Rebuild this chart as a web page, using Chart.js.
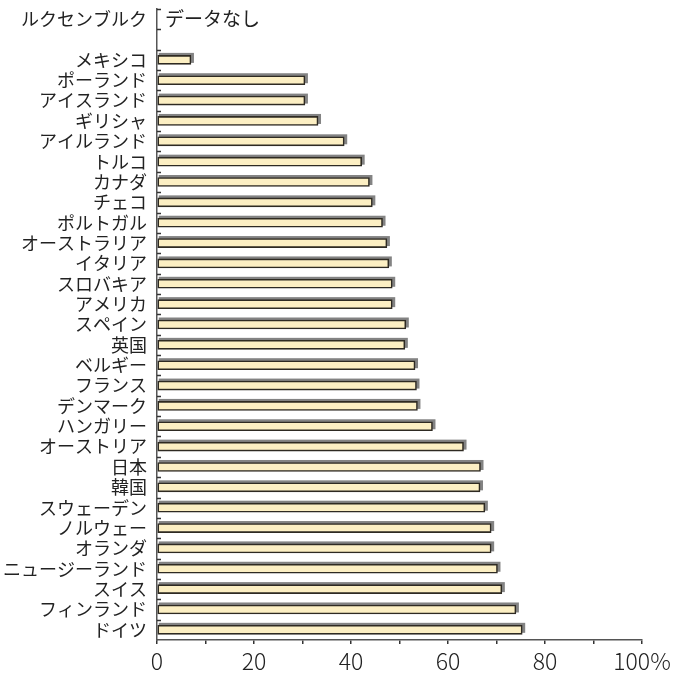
<!DOCTYPE html>
<html lang="ja">
<head>
<meta charset="utf-8">
<script src="https://cdn.jsdelivr.net/npm/chart.js@4.4.1/dist/chart.umd.min.js"></script>
<style>
  html, body { margin: 0; padding: 0; background: #fff; }
  #wrap { width: 693px; height: 674px; }
</style>
</head>
<body>
<div id="wrap"><canvas id="myChart" width="693" height="674"></canvas></div>
<script>
// Countries from top to bottom, one empty row after Luxembourg
const countries = [
  "ルクセンブルク", "", "メキシコ", "ポーランド", "アイスランド", "ギリシャ",
  "アイルランド", "トルコ", "カナダ", "チェコ", "ポルトガル", "オーストラリア",
  "イタリア", "スロバキア", "アメリカ", "スペイン", "英国", "ベルギー",
  "フランス", "デンマーク", "ハンガリー", "オーストリア", "日本", "韓国",
  "スウェーデン", "ノルウェー", "オランダ", "ニュージーランド", "スイス",
  "フィンランド", "ドイツ"
];

// Percentage values (null = no bar)
const percents = [
  null, null, 7.0, 30.5, 30.5, 33.2,
  38.6, 42.2, 43.8, 44.4, 46.5, 47.4,
  47.8, 48.5, 48.5, 51.3, 51.1, 53.2,
  53.5, 53.7, 56.8, 63.2, 66.7, 66.6,
  67.6, 68.9, 68.9, 70.2, 71.1,
  74.0, 75.3
];

const noDataRow = "ルクセンブルク";
const noDataText = "データなし";

const xTicks = [0, 20, 40, 60, 80, 100];

const jpFont = "'Noto Sans CJK JP', 'Noto Sans', sans-serif";

// Gray block behind each bar, shifted up and to the right
const barShadow = {
  id: "barShadow",
  beforeDatasetsDraw(chart) {
    const ctx = chart.ctx;
    const meta = chart.getDatasetMeta(0);
    ctx.save();
    ctx.fillStyle = "#838383";
    meta.data.forEach((bar, i) => {
      if (percents[i] == null) return;
      const p = bar.getProps(["x", "y", "base", "height"], true);
      const left = Math.min(p.base, p.x);
      const w = Math.abs(p.x - p.base);
      ctx.fillRect(left + 1, p.y - p.height / 2 - 2.5, w + 2, p.height + 1);
    });
    ctx.restore();
  }
};

// Small inward ticks on the category axis plus the "no data" note
const axisExtras = {
  id: "axisExtras",
  afterDraw(chart) {
    const ctx = chart.ctx;
    const y = chart.scales.y;
    const area = chart.chartArea;
    const n = countries.length;
    const step = (y.bottom - y.top) / n;

    ctx.save();
    ctx.strokeStyle = "#333";
    ctx.lineWidth = 1.5;
    for (let i = 0; i < n; i++) {
      const py = Math.round(y.top + i * step) + 0.5;
      ctx.beginPath();
      ctx.moveTo(area.left, py);
      ctx.lineTo(area.left + 4, py);
      ctx.stroke();
    }

    const idx = countries.indexOf(noDataRow);
    ctx.fillStyle = "#222";
    ctx.font = "19px " + jpFont;
    ctx.textAlign = "left";
    ctx.textBaseline = "middle";
    ctx.fillText(noDataText, area.left + 8, y.getPixelForValue(idx));
    ctx.restore();
  }
};

new Chart("myChart", {
  type: "bar",
  data: {
    labels: countries,
    datasets: [
      {
        data: percents,
        backgroundColor: "#fcefc3",
        borderColor: "#2e2a22",
        borderWidth: 1.6,
        borderSkipped: false,
        barThickness: 9
      }
    ]
  },
  options: {
    indexAxis: "y",
    responsive: false,
    animation: false,
    layout: { padding: { top: 9, right: 51, bottom: 0, left: 0 } },
    plugins: {
      legend: { display: false },
      tooltip: { enabled: false }
    },
    scales: {
      x: {
        min: 0,
        max: 100,
        afterFit(scale) { scale.height = 34; },
        afterBuildTicks(scale) {
          // minor ticks every 10, labels only on the 20s
          const t = [];
          for (let v = 0; v <= 100; v += 10) t.push({ value: v });
          scale.ticks = t;
        },
        grid: {
          drawOnChartArea: false,
          drawTicks: true,
          tickLength: 4,
          color: "#333",
          lineWidth: 1.5
        },
        border: { display: true, color: "#555", width: 1.5 },
        ticks: {
          autoSkip: false,
          maxRotation: 0,
          padding: 3,
          color: "#222",
          font: { family: jpFont, size: 23, weight: "300" },
          callback(value) {
            if (!xTicks.includes(value)) return "";
            return value === 100 ? "100%" : String(value);
          }
        }
      },
      y: {
        afterFit(scale) {
          scale.width = 157;
          scale.paddingTop = 0;
          scale.paddingBottom = 0;
        },
        grid: { display: false, drawTicks: false },
        border: { display: true, color: "#555", width: 1.5 },
        ticks: {
          autoSkip: false,
          padding: 10,
          color: "#222",
          font: { family: jpFont, size: 18 }
        }
      }
    }
  },
  plugins: [barShadow, axisExtras]
});
</script>
</body>
</html>
